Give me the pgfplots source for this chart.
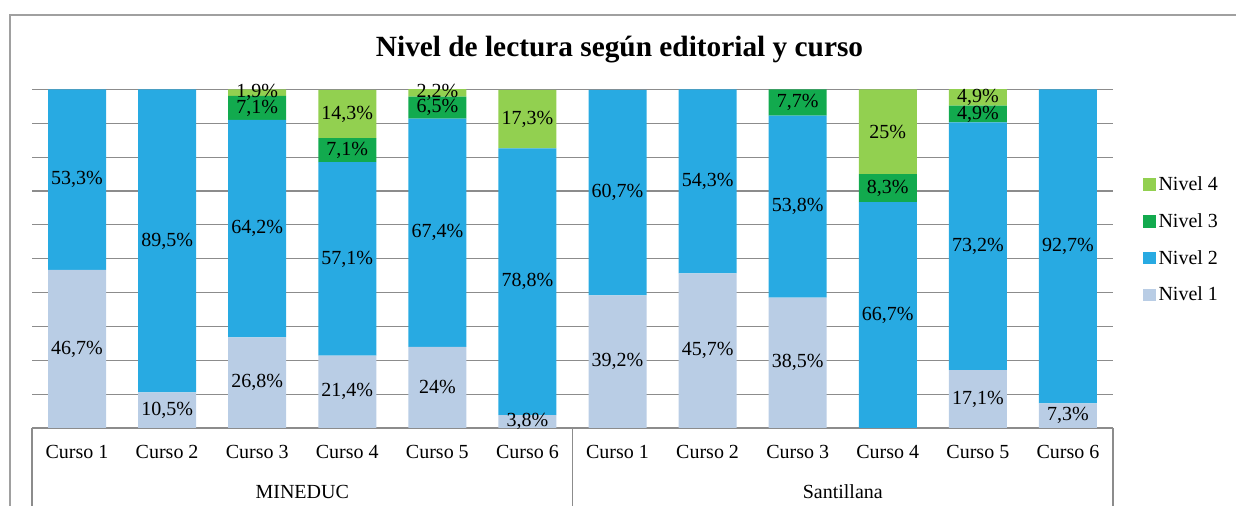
\documentclass[border=0pt]{standalone}
\usepackage{pgfplots}
\pgfplotsset{compat=1.18}
\usepackage{pgfplotstable}
\usepackage{fontspec}
\setmainfont{Liberation Serif}
\definecolor{nA}{RGB}{185,205,229}
\definecolor{nB}{RGB}{40,170,226}
\definecolor{nC}{RGB}{18,170,78}
\definecolor{nD}{RGB}{146,208,80}
\definecolor{gridc}{RGB}{140,140,140}
\definecolor{framec}{RGB}{160,160,160}

\pgfplotstableread{
x n1 n2 n3 n4
0 46.7 53.3 0 0
1 10.5 89.5 0 0
2 26.8 64.2 7.1 1.9
3 21.4 57.1 7.1 14.3
4 24 67.4 6.5 2.2
5 3.8 78.8 0 17.3
6 39.2 60.7 0 0
7 45.7 54.3 0 0
8 38.5 53.8 7.7 0
9 0 66.7 8.3 25
10 17.1 73.2 4.9 4.9
11 7.3 92.7 0 0
}\datatable

\pgfplotstableread{
x y t
0 23.35 46,7
0 73.35 53,3
1 5.25 10,5
1 55.25 89,5
2 13.4 26,8
2 58.9 64,2
2 94.55 7,1
2 99.05 1,9
3 10.7 21,4
3 49.95 57,1
3 82.05 7,1
3 92.75 14,3
4 12 24
4 57.7 67,4
4 94.65 6,5
4 99 2,2
5 1.9 3,8
5 43.2 78,8
5 91.25 17,3
6 19.6 39,2
6 69.55 60,7
7 22.85 45,7
7 72.85 54,3
8 19.25 38,5
8 65.4 53,8
8 96.15 7,7
9 33.35 66,7
9 70.85 8,3
9 87.5 25
10 8.55 17,1
10 53.7 73,2
10 92.75 4,9
10 97.65 4,9
11 3.65 7,3
11 53.65 92,7
}\labeltable

\newcommand{\lblfont}{\fontsize{15}{17}\selectfont}

\begin{document}
\begin{tikzpicture}
\useasboundingbox (-24pt,-58.5pt) rectangle (903pt,321pt);
\clip (-24pt,-58.5pt) rectangle (903pt,321pt);
\draw[framec, line width=0.9pt] (-16.5pt,-80pt) -- (-16.5pt,309.75pt) -- (950pt,309.75pt);
\begin{axis}[
  at={(0pt,0pt)}, anchor=south west,
  scale only axis, width=810.75pt, height=253.9pt,
  xmin=-0.5, xmax=11.5, ymin=0, ymax=100,
  ybar stacked, bar width=43.5pt,
  axis line style={draw=none},
  ytick={0,10,...,100}, yticklabels={},
  ymajorgrids, grid style={gridc, line width=0.8pt},
  major tick length=0pt,
  xtick pos=bottom, ytick pos=left,
  xtick={0,...,11},
  xticklabels={Curso 1,Curso 2,Curso 3,Curso 4,Curso 5,Curso 6,Curso 1,Curso 2,Curso 3,Curso 4,Curso 5,Curso 6},
  xticklabel style={anchor=base, yshift=-22.9pt, font=\lblfont},
  extra x ticks={-0.5,5.5,11.5}, extra x tick labels={},
  extra x tick style={grid=none, major tick length=90pt, tick align=outside, tick style={gridc, line width=0.8pt}},
  clip=false,
  legend style={at={(1.0277,0.556)}, anchor=west, draw=none, fill=none, font=\lblfont, row sep=11.6pt, inner sep=0pt},
  legend cell align=left,
  reverse legend,
  legend image code/.code={\fill[#1] (0pt,-4.7pt) rectangle (9.5pt,4.7pt);},
]
\addplot[fill=nA, draw=none] table[x=x, y=n1] {\datatable};
\addlegendentry{Nivel 1}
\addplot[fill=nB, draw=none] table[x=x, y=n2] {\datatable};
\addlegendentry{Nivel 2}
\addplot[fill=nC, draw=none] table[x=x, y=n3] {\datatable};
\addlegendentry{Nivel 3}
\addplot[fill=nD, draw=none] table[x=x, y=n4] {\datatable};
\addlegendentry{Nivel 4}
\node[anchor=base, font=\lblfont] at (axis cs:2.5,0) [yshift=-52.9pt] {MINEDUC};
\node[anchor=base, font=\lblfont] at (axis cs:8.5,0) [yshift=-52.9pt] {Santillana};
\node[anchor=base, font=\bfseries\fontsize{22}{24}\selectfont] at (rel axis cs:0.5435,1.0969) {Nivel de lectura según editorial y curso};
\end{axis}
\begin{axis}[
  at={(0pt,0pt)}, anchor=south west,
  scale only axis, width=810.75pt, height=253.9pt,
  xmin=-0.5, xmax=11.5, ymin=0, ymax=100,
  hide axis, clip=false,
  nodes near coords={\pgfplotspointmeta\%},
  point meta=explicit symbolic,
  every node near coord/.append style={anchor=center, font=\lblfont, text=black, inner sep=0pt},
]
\addplot[only marks, mark=none] table[x=x, y=y, meta=t] {\labeltable};
\end{axis}
\end{tikzpicture}
\end{document}
